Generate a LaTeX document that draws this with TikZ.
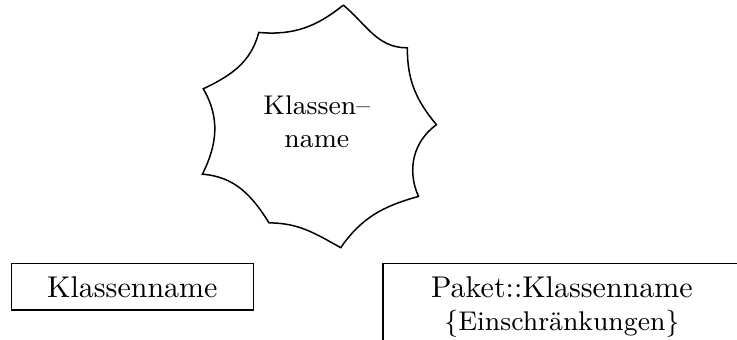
\documentclass[tikz,border=0pt]{standalone}
\usepackage{amsmath}

\begin{document}
\begin{tikzpicture}[
    klasse/.style={draw, inner sep=0pt, align=center}
  ]
  \useasboundingbox (0, 0) rectangle (8.63, 3.98);

  \coordinate (t1) at (4.02, 3.92);
  \coordinate (t2) at (4.77, 3.42);
  \coordinate (t3) at (5.11, 2.52);
  \coordinate (t4) at (4.90, 1.68);
  \coordinate (t5) at (3.99, 1.08);
  \coordinate (t6) at (3.15, 1.37);
  \coordinate (t7) at (2.37, 1.94);
  \coordinate (t8) at (2.38, 2.94);
  \coordinate (t9) at (3.03, 3.60);

  \draw[line width=0.5pt] (t1) to[out=-6, in=214, relative] (t2)
    to[out=-21, in=199, relative] (t3)
    to[out=-40, in=218, relative] (t4)
    to[out=-18, in=202, relative] (t5)
    to[out=-10, in=199, relative] (t6)
    to[out=-22, in=212, relative] (t7)
    to[out=-26, in=211, relative] (t8)
    to[out=-20, in=210, relative] (t9)
    to[out=-23, in=201, relative] (t1);

  \node[align=center, font=\small] (wolke) at (3.71, 2.55) {Klassen--\\name};

  \node[klasse, minimum width=2.83cm, minimum height=0.54cm] (klasse) at (1.55, 0.62) {Klassenname};
  \node[klasse, font=\small, minimum width=4.19cm, minimum height=1.02cm] (paket) at (6.58, 0.38) {{\normalsize Paket::Klassenname}\\\{Einschr\"ankungen\}};
\end{tikzpicture}
\end{document}
